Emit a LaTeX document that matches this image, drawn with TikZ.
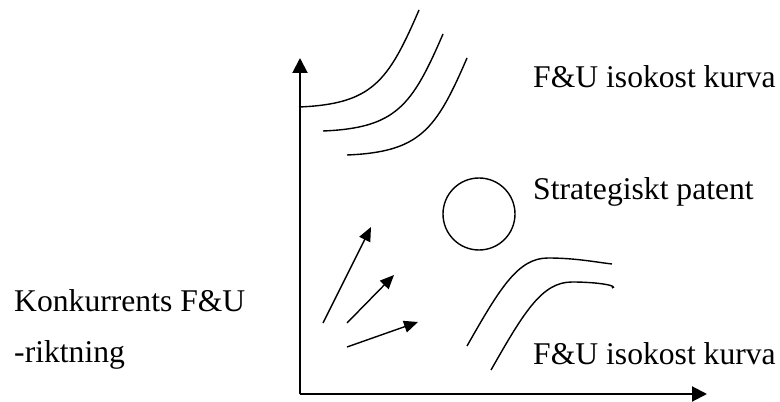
\documentclass[tikz,border=0pt]{standalone}
\usepackage{fontspec}
\setmainfont{Liberation Serif}
\usetikzlibrary{arrows.meta, positioning}

\begin{document}
\begin{tikzpicture}[x=0.03cm, y=-0.03cm]
    % Define styles
    \tikzstyle{label} = [anchor=base west, inner sep=0pt, font=\fontsize{27}{32}\selectfont]
    \tikzstyle{axis} = [-{Triangle[length=0.45cm, width=0.45cm]}, line width=1.7pt]
    \tikzstyle{arrow} = [-{Triangle[length=0.42cm, width=0.36cm]}, line width=1.2pt]
    \tikzstyle{curve} = [line width=1.2pt]
    \tikzstyle{patent} = [circle, draw, line width=1.2pt, minimum size=2.16cm, inner sep=0pt]

    \useasboundingbox (0,0) rectangle (780,402);

    % Axes
    \coordinate (origin) at (300,394);
    \coordinate (ytip) at (300,58);
    \coordinate (xtip) at (707,394);
    \draw[axis] (origin) -- (ytip);
    \draw[axis] (origin) -- (xtip);

    % Upper isocost curves
    \foreach \d in {0,24,48}
        \draw[curve] (299+\d,107+\d) .. controls (372+\d,104+\d) and (388+\d,82+\d) .. (419+\d,10+\d);

    % Lower isocost curves
    \foreach \d in {0,24}
        \draw[curve] (467+\d,346+\d) .. controls (500+\d,288+\d) and (518+\d,258+\d) .. (548+\d,258+\d)
                                      .. controls (575+\d,258+\d) and (595+\d,262+\d) .. (612,264+\d);

    % Strategic patent
    \node[patent] (patent) at (479,214) {};

    % Competitor directions
    \coordinate (a1s) at (323,323); \coordinate (a1e) at (371,227);
    \coordinate (a2s) at (347,323); \coordinate (a2e) at (394,275);
    \coordinate (a3s) at (347,347); \coordinate (a3e) at (418,322);
    \draw[arrow] (a1s) -- (a1e);
    \draw[arrow] (a2s) -- (a2e);
    \draw[arrow] (a3s) -- (a3e);

    % Labels
    \node[label] (topcurve) at (533,88) {F\&U isokost kurva};
    \node[label] (patentlbl) at (533,200) {Strategiskt patent};
    \node[label] (lowcurve) at (533,365) {F\&U isokost kurva};
    \node[label] (rival) at (14,312) {Konkurrents F\&U};
    \node[label] (rivaldir) at (14,363) {-riktning};
\end{tikzpicture}
\end{document}
